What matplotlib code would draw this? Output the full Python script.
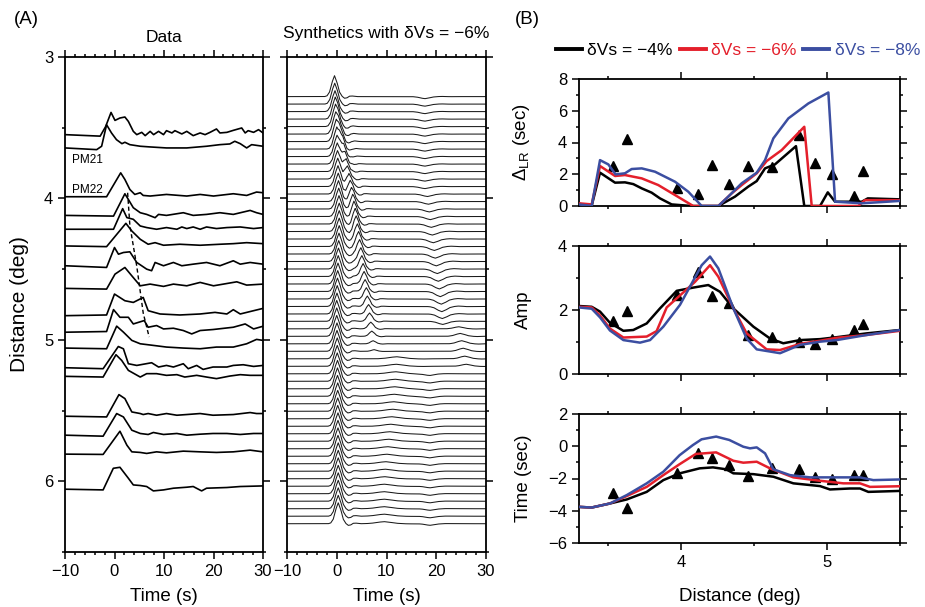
import numpy as np
import matplotlib
matplotlib.use('Agg')
import matplotlib.pyplot as plt
from matplotlib.ticker import MultipleLocator

plt.rcParams['font.family'] = ['Liberation Sans', 'DejaVu Sans']
plt.rcParams['mathtext.fontset'] = 'custom'
plt.rcParams['mathtext.rm'] = 'Liberation Sans'
plt.rcParams['mathtext.it'] = 'Liberation Sans:italic'
plt.rcParams['axes.linewidth'] = 1.3

# ---------------- panel A: recorded traces (time s, amplitude arbitrary units) ----------------
data_dist = [3.549, 3.643, 3.988, 4.120, 4.218, 4.336, 4.488, 4.641, 4.829,
             4.946, 5.058, 5.197, 5.258, 5.540, 5.674, 5.808, 6.056]
data_t = [
    [-10, -2.9, -1.8, -0.7, 0.1, 1.1, 2.1, 2.8, 3.8, 4.5, 5.5, 6.2, 7.2, 7.9, 8.9, 9.9, 10.5, 11.6, 12.2, 13.6,
     14.6, 15.9, 17.3, 18.3, 19.3, 20.6, 21.3, 22.7, 24.0, 25.7, 26.4, 27.0, 28.1, 29.1, 30],
    [-10, -3.6, -2.6, -1.6, -0.6, 0.4, 1.5, 2.1, 3.1, 5.2, 7.2, 10.5, 14.6, 18.6, 21.3, 23.3, 24.3, 25.4, 26.7, 27.7, 30],
    [-10, -1.6, 1.25, 2.1, 3.1, 4.1, 5.2, 5.8, 7.2, 10.5, 14.6, 17.3, 20.0, 24.0, 26.7, 28.7, 30],
    [-10, -0.2, 2.1, 2.8, 3.8, 5.2, 6.5, 8.2, 8.9, 10.5, 13.9, 15.9, 18.6, 21.3, 24.0, 27.4, 28.7, 30],
    [-10, -0.2, 1.65, 2.5, 3.8, 5.2, 6.5, 8.5, 10.5, 12.6, 13.6, 14.6, 15.9, 17.3, 18.6, 20.6, 22.7, 25.4, 28.1, 30],
    [-10, -1.6, 2.3, 3.5, 5.2, 6.8, 8.2, 9.9, 13.2, 17.3, 21.3, 24.0, 26.7, 30],
    [-10, -1.6, 0.0, 0.8, 1.8, 3.1, 4.5, 6.5, 7.5, 8.2, 9.9, 11.9, 13.6, 15.9, 18.6, 21.3, 24.0, 25.4, 27.4, 30],
    [-10, -1.6, 0.1, 2.1, 3.5, 5.2, 7.2, 9.9, 11.9, 14.6, 17.3, 20.0, 22.0, 24.7, 26.7, 30],
    [-10, -1.6, 0.0, 2.1, 3.8, 5.8, 6.8, 9.2, 13.2, 17.3, 20.3, 22.7, 24.0, 25.4, 28.1, 30],
    [-10, -1.6, -0.2, 1.1, 2.8, 3.8, 6.0, 6.8, 8.5, 9.9, 11.9, 13.9, 15.6, 17.3, 19.9, 24.0, 26.4, 28.1, 30],
    [-10, -1.6, 0.44, 1.8, 3.5, 5.2, 7.8, 10.5, 13.9, 17.3, 20.6, 24.0, 26.7, 28.7, 30],
    [-10, -2.3, 0.77, 1.8, 2.8, 4.5, 7.5, 8.9, 10.5, 11.9, 13.9, 14.9, 16.6, 17.9, 19.9, 22.7, 24.0, 26.0, 28.1, 30],
    [-10, -2.3, 0.3, 1.45, 2.8, 5.2, 6.5, 8.5, 10.5, 12.6, 14.2, 16.6, 18.6, 20.6, 23.3, 25.4, 27.4, 30],
    [-10, -1.6, 0.9, 2.1, 3.5, 5.2, 5.8, 6.8, 8.5, 10.5, 12.6, 14.6, 17.3, 19.9, 24.0, 27.4, 28.7, 30],
    [-10, -2.3, 0.44, 1.8, 3.5, 5.2, 6.8, 7.85, 9.9, 12.6, 14.6, 17.3, 19.9, 22.7, 25.4, 28.1, 30],
    [-10, -2.3, 1.1, 2.5, 3.5, 5.2, 6.5, 8.5, 10.5, 13.9, 17.3, 20.6, 24.0, 27.4, 30],
    [-10, -2.3, -0.24, 1.1, 2.8, 3.8, 5.2, 6.5, 7.85, 9.9, 11.9, 14.6, 15.9, 17.6, 18.6, 22.7, 25.4, 30],
]
data_amp = [
    [0, -1.5, 8, 22.3, 14.3, 16.7, 17.7, 13.3, 3.3, 0, 2.3, -1, 3.3, 0, 3.3, 0, 4, 1.7, 4, 0.7,
     3.3, -1, 1.7, 0, 2.3, 5.7, 1.7, 2.3, 4.3, 6.7, 1.7, 4, 2.3, 5, 1.7],
    [0, -1.7, 1.7, 23.3, 15, 8.3, 4.3, 5.7, 3.3, 1.7, 1, 0, 0, 1.7, 3.3, 4, 6.7, 4.3, 0, 3.3, 1.7],
    [0, 0, 24, 17.3, 7.3, 2.3, 4, 1.3, 0.7, 2.3, 0.7, 2.3, 0.7, 3, 1.3, 4.7, 4],
    [0, -0.7, 21.7, 16, 7.7, 2.7, 1, -2.3, 1, 0, 2.7, 0, 1, 2.7, 1, 5, 2.7, 1],
    [0, 0, 20.7, 11.7, 10, 3.3, 1.7, 0, 1.7, 0, 2.3, 0.7, 2.3, 0, 2.3, 0.7, 1.7, 2.3, 0.7, 1.7],
    [0, -0.7, 22.7, 15, 6.7, 1.7, 3.3, 0.7, 1.7, 0.7, 1.7, 2.3, 3.3, 2.3],
    [1.7, 0, 20, 13.3, 15, 15.7, 5, -1.7, -3.3, 5, 1.7, 5, 1.7, 3.3, 5, 1.7, 6.7, 3.3, 5, 3.3],
    [0.7, 0, 15, 21.7, 13.3, 3.3, 5, 2.7, 5, 3.3, 6.7, 3.3, 5, 7.3, 4, 5],
    [0, 0.7, 21.7, 15, 13.3, 18.3, 5, 1.7, 0.7, 1.7, 3.3, 1.7, 6, 1.7, 5, 7.3],
    [0, 0.7, 22.7, 15, 15, 8.3, 11.7, 5, 6.7, 3.3, 4, 1.7, -1.7, 1.7, 2.7, 5, 8.3, 3.3, 6],
    [0, -0.7, 22, 16, 7.7, 4.3, 2.7, 1, 0, -0.7, 1, 1, 4.3, 8.7, 7.7],
    [0, -1, 21.3, 19, 4, 2.3, 5, 0.7, 2.3, 0.7, 4, -1, 2.3, -1.7, 0.7, 0.7, 2.3, 3, 1.3, 2.3],
    [0, -0.7, 21.7, 16, 6, -0.7, 2.7, 2.7, 1, 1.7, -0.7, 1, -0.7, -2.3, 0.3, 1.7, 1, 1],
    [0, -0.7, 21.7, 17.7, 4.3, 2.7, 1.7, 2.7, 1, 2.7, 1, 1.7, 2.7, 1, 1.7, 3.7, 2.7, 2.7],
    [0, -1, 21.7, 18.3, 5, 1.7, 0.7, 2.7, 0.7, 1.7, 0, 1, 1.7, 1.7, 0.7, 1.7, 1.7],
    [0, -0.3, 23, 9, 2.3, 1.7, 0.7, 2.3, 1.3, 3, 2.3, 1.7, 2.3, 4, 2.3],
    [0, -0.7, 21, 22, 11, 4.3, 3.7, 2.7, -1.7, -0.7, 1, 2, 2.7, -1.7, 1, 1.7, 2.7, 3.3],
]
station_labels = ['PM21', 'PM22']
station_label_dist = [3.725, 3.937]
dash_t = [2.65, 3.1, 4.5, 5.8, 7.0]
dash_d = [3.96, 4.19, 4.48, 4.81, 4.98]

# ---------------- panel A: synthetics (dVs = -6 %) ----------------
syn_dist = [3.280, 3.333, 3.386, 3.439, 3.492, 3.545, 3.598, 3.651, 3.704, 3.757,
            3.810, 3.863, 3.916, 3.969, 4.022, 4.075, 4.128, 4.181, 4.234, 4.287,
            4.340, 4.393, 4.446, 4.499, 4.552, 4.605, 4.658, 4.711, 4.764, 4.817,
            4.869, 4.922, 4.975, 5.028, 5.081, 5.134, 5.187, 5.240, 5.293, 5.346,
            5.399, 5.452, 5.505, 5.558, 5.611, 5.664, 5.717, 5.770, 5.823, 5.876,
            5.929, 5.982, 6.035, 6.088, 6.141, 6.194, 6.247, 6.300]
# main arrival
syn_t1 = [-0.45, -0.4, -0.35, -0.3, -0.25, -0.2, -0.1, 0.0, 0.05, 0.1,
          0.15, 0.2, 0.25, 0.3, 0.35, 0.4, 0.45, 0.5, 0.5, 0.5,
          0.5, 0.45, 0.4, 0.35, 0.3, 0.25, 0.2, 0.15, 0.1, 0.05,
          0.0, 0.0, 0.0, 0.05, 0.05, 0.1, 0.1, 0.1, 0.15, 0.15,
          0.15, 0.2, 0.2, 0.2, 0.2, 0.25, 0.25, 0.25, 0.25, 0.3,
          0.3, 0.3, 0.3, 0.3, 0.3, 0.3, 0.3, 0.3]
# secondary (triplicated) arrival
syn_t2 = [0, 0, 0, 0.3, 0.5, 0.7, 0.9, 1.15, 1.4, 1.65,
          1.9, 2.15, 2.45, 2.7, 2.95, 3.2, 3.45, 3.7, 3.9, 4.15,
          4.4, 4.6, 4.85, 5.05, 5.3, 5.5, 5.7, 5.95, 6.15, 6.4,
          6.6, 6.85, 7.05, 7.3, 7.5, 0, 0, 0, 0, 0,
          0, 0, 0, 0, 0, 0, 0, 0, 0, 0,
          0, 0, 0, 0, 0, 0, 0, 0]
syn_a2 = [0, 0, 0, 0.1, 0.2, 0.3, 0.4, 0.5, 0.55, 0.6,
          0.65, 0.7, 0.7, 0.72, 0.72, 0.72, 0.72, 0.72, 0.72, 0.7,
          0.7, 0.68, 0.66, 0.64, 0.62, 0.6, 0.57, 0.54, 0.5, 0.45,
          0.4, 0.32, 0.25, 0.15, 0.08, 0, 0, 0, 0, 0,
          0, 0, 0, 0, 0, 0, 0, 0, 0, 0,
          0, 0, 0, 0, 0, 0, 0, 0]
# late small phases
syn_t3 = [17.7] * 13 + [18.2, 18.4, 18.6, 18.8, 19.0, 19.2, 19.4, 19.6, 19.8, 20.0,
                        20.2, 20.4, 20.6, 20.8, 21.0, 21.1, 21.2, 21.3] + \
         [24.5, 24.8, 25.1, 25.4, 25.7, 26.0] + [18.7] * 21
syn_a3 = [-0.1] * 13 + [-0.12, -0.13, -0.14, -0.15, -0.16, -0.17, -0.18, -0.19, -0.2, -0.21,
                        -0.22, -0.23, -0.24, -0.25, -0.25, -0.25, -0.22, -0.15] + \
         [0.1, 0.14, 0.15, 0.15, 0.13, 0.1] + [-0.08] * 21
syn_t4 = [0] * 35 + [12.0, 11.9, 11.8, 11.7, 11.6, 11.5, 11.4, 11.2, 11.0, 10.8, 10.6, 10.4,
                     10.2, 10.0, 9.8, 9.7, 9.6, 9.5, 9.5, 9.5, 9.5, 9.5, 9.5]
syn_a4 = [0] * 35 + [0.1] * 23
# source pulse shape (normalised)
pulse_t = [-2.0, -1.5, -1.0, -0.5, 0.0, 0.5, 1.0, 1.5, 2.0, 2.5, 3.0, 3.5, 4.5]
pulse_a = [0.0, 0.04, 0.22, 0.68, 1.0, 0.68, 0.22, 0.02, -0.08, -0.06, 0.02, 0.03, 0.0]

# ---------------- panel B ----------------
obs_d = [3.531, 3.627, 3.973, 4.113, 4.212, 4.327, 4.46, 4.621, 4.806, 4.915, 5.036, 5.186, 5.249]
obs_lr = [2.52, 4.19, 1.15, 0.73, 2.58, 1.38, 2.52, 2.47, 4.47, 2.72, 1.99, 0.63, 2.2]
obs_amp = [1.66, 1.98, 2.47, 3.2, 2.45, 2.21, 1.22, 1.17, 1.01, 0.93, 1.08, 1.375, 1.56]
obs_time = [-2.89, -3.8, -1.64, -0.44, -0.75, -1.17, -1.85, -1.37, -1.42, -1.89, -2.0, -1.79, -1.79]

lr4_d = [3.30, 3.387, 3.444, 3.547, 3.615, 3.672, 3.73, 3.798, 3.855, 3.935, 4.072, 4.255, 4.369,
         4.46, 4.518, 4.575, 4.643, 4.787, 4.844, 4.952, 5.005, 5.055, 5.238, 5.279, 5.5]
lr4_v = [0.13, 0.02, 2.1, 1.47, 1.49, 1.38, 1.11, 0.84, 0.48, 0.1, 0, 0, 0.59,
         1.22, 1.57, 2.37, 2.62, 3.77, 0, 0, 0.86, 0.27, 0.27, 0.48, 0.42]
lr6_d = [3.30, 3.387, 3.444, 3.547, 3.615, 3.73, 3.843, 3.958, 4.083, 4.255, 4.347, 4.415, 4.518,
         4.586, 4.689, 4.844, 4.895, 5.214, 5.26, 5.5]
lr6_v = [0.17, 0.1, 2.52, 1.89, 1.95, 1.74, 1.32, 0.69, 0, 0, 0.8, 1.32, 2.06,
         2.83, 3.52, 4.99, 0, 0, 0.37, 0.37]
lr8_d = [3.30, 3.387, 3.444, 3.501, 3.551, 3.615, 3.661, 3.73, 3.821, 3.958, 4.049, 4.141, 4.255,
         4.323, 4.415, 4.518, 4.575, 4.632, 4.735, 4.872, 5.009, 5.055, 5.238, 5.5]
lr8_v = [0.1, 0, 2.89, 2.62, 1.99, 2.06, 2.33, 2.37, 2.16, 1.53, 0.9, 0, 0,
         0.59, 1.43, 2.1, 2.89, 4.26, 5.52, 6.46, 7.15, 0.27, 0.17, 0.32]

amp4_d = [3.30, 3.387, 3.444, 3.512, 3.604, 3.672, 3.764, 3.855, 3.97, 4.083, 4.186, 4.266, 4.358,
          4.495, 4.609, 4.70, 4.815, 4.952, 5.066, 5.272, 5.5]
amp4_v = [2.125, 2.1, 1.95, 1.6, 1.35, 1.375, 1.58, 2.05, 2.6, 2.7, 2.78, 2.57, 2.05,
          1.48, 1.11, 0.96, 1.06, 1.09, 1.15, 1.27, 1.375]
amp6_d = [3.30, 3.387, 3.444, 3.512, 3.604, 3.764, 3.832, 3.901, 4.095, 4.198, 4.255, 4.358, 4.449,
          4.586, 4.678, 4.815, 4.952, 5.066, 5.272, 5.5]
amp6_v = [2.1, 2.08, 1.83, 1.42, 1.14, 1.17, 1.34, 2.08, 2.88, 3.4, 3.04, 2.05, 1.27,
          0.77, 0.75, 0.94, 1.04, 1.13, 1.22, 1.35]
amp8_d = [3.30, 3.387, 3.444, 3.512, 3.604, 3.718, 3.787, 3.878, 3.992, 4.141, 4.198, 4.255, 4.358,
          4.449, 4.518, 4.678, 4.815, 4.952, 5.066, 5.272, 5.5]
amp8_v = [2.08, 2.04, 1.77, 1.36, 1.06, 0.98, 1.06, 1.48, 2.16, 3.4, 3.67, 3.3, 2.05,
          1.11, 0.77, 0.65, 0.91, 1.01, 1.06, 1.22, 1.375]

tt4_d = [3.30, 3.387, 3.512, 3.627, 3.764, 3.878, 3.99, 4.127, 4.218, 4.309, 4.358, 4.495, 4.632,
         4.769, 4.952, 5.02, 5.157, 5.226, 5.283, 5.5]
tt4_v = [-3.76, -3.8, -3.55, -3.3, -2.83, -2.1, -1.68, -1.37, -1.31, -1.43, -1.68, -1.73, -1.89,
         -2.3, -2.47, -2.68, -2.62, -2.62, -2.83, -2.77]
tt6_d = [3.30, 3.387, 3.512, 3.627, 3.764, 3.878, 3.99, 4.10, 4.24, 4.358, 4.426, 4.518, 4.609,
         4.769, 4.952, 5.111, 5.226, 5.294, 5.5]
tt6_v = [-3.76, -3.8, -3.55, -3.09, -2.52, -1.79, -1.11, -0.48, -0.38, -0.9, -1.02, -0.96, -1.37,
         -1.93, -2.14, -2.3, -2.3, -2.52, -2.48]
tt8_d = [3.30, 3.387, 3.512, 3.627, 3.764, 3.878, 3.99, 4.08, 4.14, 4.24, 4.33, 4.426, 4.472,
         4.518, 4.575, 4.632, 4.746, 4.883, 5.043, 5.226, 5.317, 5.5]
tt8_v = [-3.76, -3.8, -3.55, -3.03, -2.3, -1.58, -0.55, 0.07, 0.43, 0.6, 0.39, -0.03, -0.13,
         -0.07, -0.44, -1.43, -1.79, -1.93, -1.93, -1.93, -2.1, -2.06]

model_labels = ['\u03b4Vs = \u22124%', '\u03b4Vs = \u22126%', '\u03b4Vs = \u22128%']
model_colors = ['black', '#e41f2b', '#3b4ea1']

W, H = 925, 607
fig = plt.figure(figsize=(W / 100, H / 100), dpi=100)


def box(x0, y0, x1, y1):
    return [x0 / W, 1 - y1 / H, (x1 - x0) / W, (y1 - y0) / H]


def style(ax, fs):
    ax.tick_params(which='both', direction='out', top=True, right=True, labelsize=fs, width=1.1)
    ax.tick_params(which='major', length=5)
    ax.tick_params(which='minor', length=2.5)


ax_d = fig.add_axes(box(65, 57, 263, 552))
ax_s = fig.add_axes(box(287, 57, 486, 552))
amp_scale = 1 / 142.0

for d, t, a in zip(data_dist, data_t, data_amp):
    ax_d.plot(t, d - np.array(a) * amp_scale, color='black', lw=1.2)
for name, yd in zip(station_labels, station_label_dist):
    ax_d.text(-8.65, yd, name, fontsize=8.5, va='center', ha='left')
ax_d.plot(dash_t, dash_d, color='black', lw=1.0, ls=(0, (3, 2)))

tg = np.linspace(-10, 30, 1601)


def wavelet(t0, width):
    return np.interp((tg - t0) / width, pulse_t, pulse_a, left=0, right=0)


for k, d in enumerate(syn_dist):
    w = wavelet(syn_t1[k], 1.0)
    if syn_a2[k]:
        w = w + syn_a2[k] * wavelet(syn_t2[k], 0.9)
    w = w + syn_a3[k] * wavelet(syn_t3[k], 1.6)
    if syn_a4[k]:
        w = w + syn_a4[k] * wavelet(syn_t4[k], 2.5)
    ax_s.plot(tg, d - 0.148 * w, color='#1a1a1a', lw=0.75)

for ax in (ax_d, ax_s):
    ax.set_xlim(-10, 30)
    ax.set_ylim(6.5, 3)
    ax.xaxis.set_major_locator(MultipleLocator(10))
    ax.xaxis.set_minor_locator(MultipleLocator(2))
    ax.yaxis.set_major_locator(MultipleLocator(1))
    ax.yaxis.set_minor_locator(MultipleLocator(0.5))
    style(ax, 12)
    ax.set_xlabel('Time (s)', fontsize=13.5)
    ax.xaxis.set_label_coords(0.5, -0.072)
ax_s.tick_params(labelleft=False)
ax_d.set_ylabel('Distance (deg)', fontsize=15)
ax_d.yaxis.set_label_coords(-0.18, 0.5)
ax_d.text(0.5, 1.04, 'Data', transform=ax_d.transAxes, ha='center', va='center', fontsize=12.5)
ax_s.text(0.5, 1.048, 'Synthetics with \u03b4Vs = \u22126%', transform=ax_s.transAxes,
          ha='center', va='center', fontsize=12.5)

# ---------------- panel B axes ----------------
ax1 = fig.add_axes(box(579, 79, 900, 206))
ax2 = fig.add_axes(box(579, 246, 900, 374))
ax3 = fig.add_axes(box(579, 414, 900, 543))

panels = [
    (ax1, obs_lr, [(lr4_d, lr4_v), (lr6_d, lr6_v), (lr8_d, lr8_v)], (0, 8), 2, r'$\Delta_{\rm LR}$ (sec)'),
    (ax2, obs_amp, [(amp4_d, amp4_v), (amp6_d, amp6_v), (amp8_d, amp8_v)], (0, 4), 2, 'Amp'),
    (ax3, obs_time, [(tt4_d, tt4_v), (tt6_d, tt6_v), (tt8_d, tt8_v)], (-6, 2), 2, 'Time (sec)'),
]
for ax, obs, curves, ylim, step, ylab in panels:
    ax.plot(obs_d, obs, ls='none', marker='^', color='black', markersize=7.5, zorder=2)
    for (xd, yv), c, lab in zip(curves, model_colors, model_labels):
        ax.plot(xd, yv, color=c, lw=1.8, label=lab, zorder=3)
    ax.set_xlim(3.3, 5.5)
    ax.set_ylim(*ylim)
    ax.xaxis.set_major_locator(MultipleLocator(1))
    ax.xaxis.set_minor_locator(MultipleLocator(0.5))
    ax.yaxis.set_major_locator(MultipleLocator(step))
    ax.yaxis.set_minor_locator(MultipleLocator(1))
    style(ax, 12)
    ax.set_ylabel(ylab, fontsize=13.5)
    ax.yaxis.set_label_coords(-0.145, 0.5)
ax1.tick_params(labelbottom=False)
ax2.tick_params(labelbottom=False)
ax3.set_xlabel('Distance (deg)', fontsize=13.5)
ax3.xaxis.set_label_coords(0.5, -0.35)

handles, labels = ax1.get_legend_handles_labels()
fig.legend(handles, labels, loc='center', bbox_to_anchor=(738 / W, 1 - 50 / H), ncol=3,
           frameon=False, fontsize=12.5, handlelength=1.5, handletextpad=0.3,
           columnspacing=0.4, labelcolor='linecolor', borderpad=0, borderaxespad=0)
for line in fig.legends[0].get_lines():
    line.set_linewidth(2.8)

fig.text(26 / W, 1 - 20 / H, '(A)', fontsize=13.5, ha='center', va='center')
fig.text(527 / W, 1 - 20 / H, '(B)', fontsize=13.5, ha='center', va='center')

fig.savefig('out.png', dpi=100)
